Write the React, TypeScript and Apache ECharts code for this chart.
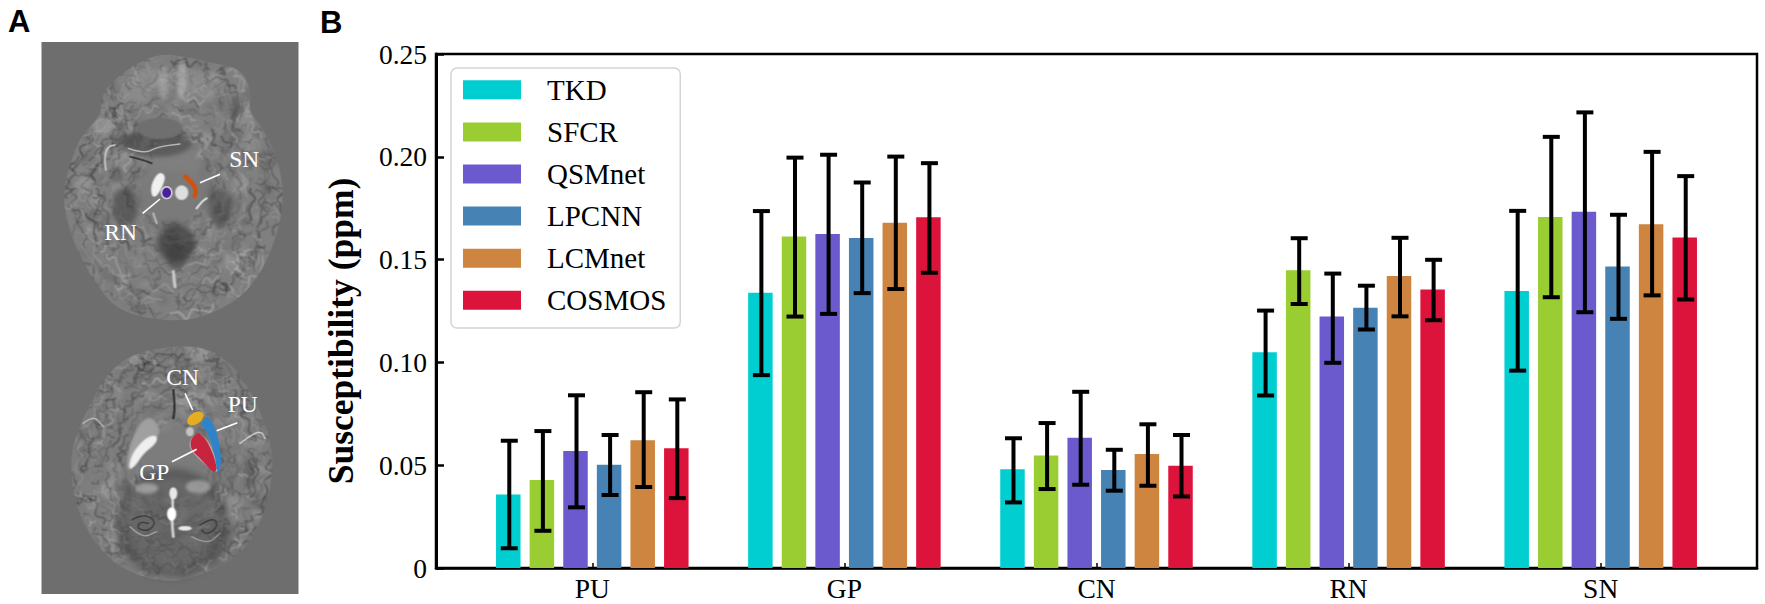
import React, { useEffect, useRef } from "react";
import * as echarts from "echarts";

const categories = ["PU", "GP", "CN", "RN", "SN"];
const methods = ["TKD", "SFCR", "QSMnet", "LPCNN", "LCMnet", "COSMOS"];
const colors = ["#00CED1", "#9ACD32", "#6A5ACD", "#4682B4", "#CD853F", "#DC143C"];
const yTicks = ["0", "0.05", "0.10", "0.15", "0.20", "0.25"];

const tkdMean = [0.0358, 0.1339, 0.048, 0.1049, 0.1347];
const sfcrMean = [0.0428, 0.1612, 0.0547, 0.1448, 0.1707];
const qsmMean = [0.0569, 0.1625, 0.0633, 0.1223, 0.1733];
const lpcnnMean = [0.0502, 0.1605, 0.0477, 0.1266, 0.1467];
const lcmMean = [0.0621, 0.1679, 0.0554, 0.142, 0.1672];
const cosmosMean = [0.0582, 0.1706, 0.0497, 0.1355, 0.1607];

const tkdLow = [0.0096, 0.0938, 0.0319, 0.0839, 0.096];
const sfcrLow = [0.0181, 0.1223, 0.0384, 0.1284, 0.1317];
const qsmLow = [0.0295, 0.1236, 0.0405, 0.0998, 0.1244];
const lpcnnLow = [0.0355, 0.1337, 0.0376, 0.116, 0.1212];
const lcmLow = [0.0394, 0.1357, 0.04, 0.1224, 0.1326];
const cosmosLow = [0.034, 0.1436, 0.0348, 0.1205, 0.1306];

const tkdHigh = [0.0619, 0.1736, 0.0631, 0.1252, 0.1737];
const sfcrHigh = [0.0666, 0.1996, 0.0705, 0.1604, 0.2097];
const qsmHigh = [0.084, 0.201, 0.0857, 0.1432, 0.2216];
const lpcnnHigh = [0.0647, 0.1875, 0.0575, 0.1373, 0.1718];
const lcmHigh = [0.0855, 0.2001, 0.0699, 0.1606, 0.2024];
const cosmosHigh = [0.082, 0.1969, 0.0647, 0.1499, 0.1906];

const means = [tkdMean, sfcrMean, qsmMean, lpcnnMean, lcmMean, cosmosMean];
const lows = [tkdLow, sfcrLow, qsmLow, lpcnnLow, lcmLow, cosmosLow];
const highs = [tkdHigh, sfcrHigh, qsmHigh, lpcnnHigh, lcmHigh, cosmosHigh];

const PITCH = 0.1333;
const xOf = (cat: number, s: number) => cat + (s - 2.5) * PITCH;

type P = number[];
const TOP_OFF = 0;
const BOT_OFF = 870;
const PANEL = { x: 41.5, y: 42, w: 257, h: 552 };
const zp = (pts: P[], off: number) => pts.map(([x, y]) => [x / 3, (y + off) / 3]);

const topOutline: P[] = [[300,300],[330,250],[400,195],[480,160],[560,170],[640,190],[720,205],[755,270],[745,335],[790,385],[830,470],[850,560],[845,650],[815,750],[780,820],[730,885],[660,930],[560,965],[430,955],[340,920],[280,840],[225,740],[195,640],[190,570],[210,490],[245,405],[305,345]];
const botOutline: P[] = [[515,168],[600,170],[660,195],[720,250],[770,340],[810,440],[820,540],[800,650],[760,740],[700,810],[620,850],[520,878],[420,860],[340,820],[270,740],[225,640],[210,530],[225,440],[270,340],[320,250],[400,190]];

// Brain slices: the reference shows photographic MRI slices, painted here as a texture image.
function paintSlices(): string {
  const S = 2;
  const cv = document.createElement("canvas");
  cv.width = PANEL.w * S;
  cv.height = PANEL.h * S;
  const ctx = cv.getContext("2d")!;
  ctx.scale(S, S);
  ctx.translate(-PANEL.x, -PANEL.y);
  ctx.fillStyle = "#6e6e6e";
  ctx.fillRect(PANEL.x, PANEL.y, PANEL.w, PANEL.h);

  let seed = 12345;
  const rnd = () => {
    seed = (seed * 16807) % 2147483647;
    return seed / 2147483647;
  };

  const closed = (pts: P[]) => {
    ctx.beginPath();
    const n = pts.length;
    const mid = (a: P, b: P) => [(a[0] + b[0]) / 2, (a[1] + b[1]) / 2];
    const m0 = mid(pts[n - 1], pts[0]);
    ctx.moveTo(m0[0], m0[1]);
    for (let i = 0; i < n; i++) {
      const m = mid(pts[i], pts[(i + 1) % n]);
      ctx.quadraticCurveTo(pts[i][0], pts[i][1], m[0], m[1]);
    }
    ctx.closePath();
  };
  const ell = (x: number, y: number, rx: number, ry: number, off: number, color: string, blur = 1, rot = 0) => {
    ctx.filter = `blur(${blur}px)`;
    ctx.fillStyle = color;
    ctx.beginPath();
    ctx.ellipse(x / 3, (y + off) / 3, rx / 3, ry / 3, rot, 0, Math.PI * 2);
    ctx.fill();
    ctx.filter = "none";
  };
  const path = (pts: P[], off: number, color: string, w: number, blur = 0.7) => {
    ctx.filter = `blur(${blur}px)`;
    ctx.strokeStyle = color;
    ctx.lineWidth = w;
    ctx.lineCap = "round";
    ctx.lineJoin = "round";
    ctx.beginPath();
    const q = zp(pts, off);
    q.forEach(([x, y], i) => {
      if (!i) ctx.moveTo(x, y);
      else if (i < q.length - 1) ctx.quadraticCurveTo(x, y, (x + q[i + 1][0]) / 2, (y + q[i + 1][1]) / 2);
      else ctx.lineTo(x, y);
    });
    ctx.stroke();
    ctx.filter = "none";
  };
  const shape = (pts: P[], off: number, color: string, blur = 1) => {
    ctx.filter = `blur(${blur}px)`;
    ctx.fillStyle = color;
    closed(zp(pts, off));
    ctx.fill();
    ctx.filter = "none";
  };

  const texture = (outlineZ: P[], off: number, base: string) => {
    const outline = zp(outlineZ, off);
    const cx = outline.reduce((a, p) => a + p[0], 0) / outline.length;
    const cy = outline.reduce((a, p) => a + p[1], 0) / outline.length;
    ctx.save();
    closed(outline);
    ctx.clip();
    ctx.fillStyle = base;
    ctx.fillRect(PANEL.x, PANEL.y, PANEL.w, PANEL.h);

    const samples: P[] = [];
    const n = outline.length;
    for (let i = 0; i < n; i++) {
      const a = outline[i];
      const b = outline[(i + 1) % n];
      for (let t = 0; t < 1; t += 0.1) samples.push([a[0] + (b[0] - a[0]) * t, a[1] + (b[1] - a[1]) * t]);
    }

    // soft tonal patches
    ctx.filter = "blur(3.5px)";
    for (let i = 0; i < 170; i++) {
      const p = samples[Math.floor(rnd() * samples.length)];
      const k = 0.3 + rnd() * 0.68;
      const g = Math.round(80 + rnd() * 90);
      ctx.fillStyle = `rgba(${g},${g},${g},0.4)`;
      ctx.beginPath();
      ctx.ellipse(cx + (p[0] - cx) * k, cy + (p[1] - cy) * k, 3 + rnd() * 9, 3 + rnd() * 7, rnd() * 3, 0, 6.3);
      ctx.fill();
    }

    // folded gyri: wobbling concentric strokes
    ctx.filter = "blur(0.8px)";
    for (let k = 0.99; k > 0.3; k -= 0.03) {
      const f1 = 20 + rnd() * 26;
      const f2 = 40 + rnd() * 40;
      const ph = rnd() * 6;
      let i = Math.floor(rnd() * samples.length);
      let remaining = samples.length;
      while (remaining > 0) {
        const len = 4 + Math.floor(rnd() * 18);
        const skip = 2 + Math.floor(rnd() * 10);
        const dark = rnd() < 0.55;
        const g = dark ? Math.round(50 + rnd() * 40) : Math.round(140 + rnd() * 50);
        ctx.strokeStyle = `rgba(${g},${g},${g},${0.22 + rnd() * 0.33})`;
        ctx.lineWidth = 0.6 + rnd() * 1.7;
        ctx.beginPath();
        for (let j = 0; j < len; j++) {
          const idx = (i + j) % samples.length;
          const th = (idx / samples.length) * Math.PI * 2;
          const kk = k * (1 + 0.028 * Math.sin(th * f1 + ph) + 0.016 * Math.sin(th * f2 + ph * 2));
          const x = cx + (samples[idx][0] - cx) * kk;
          const y = cy + (samples[idx][1] - cy) * kk;
          j ? ctx.lineTo(x, y) : ctx.moveTo(x, y);
        }
        ctx.stroke();
        i += len + skip;
        remaining -= len + skip;
      }
    }

    // radial sulci in the cortex
    for (let i = 0; i < 170; i++) {
      const p = samples[Math.floor(rnd() * samples.length)];
      const k0 = 0.72 + rnd() * 0.28;
      const dark = rnd() < 0.6;
      const g = dark ? Math.round(45 + rnd() * 40) : Math.round(150 + rnd() * 50);
      ctx.strokeStyle = `rgba(${g},${g},${g},0.4)`;
      ctx.lineWidth = 0.6 + rnd() * 1;
      ctx.beginPath();
      const wob = rnd() * 6;
      for (let j = 0; j < 7; j++) {
        const k = k0 - j * 0.012;
        const x = cx + (p[0] - cx) * k + Math.sin(j * 1.4 + wob) * 1.6;
        const y = cy + (p[1] - cy) * k + Math.cos(j * 1.2 + wob) * 1.6;
        j ? ctx.lineTo(x, y) : ctx.moveTo(x, y);
      }
      ctx.stroke();
    }
    ctx.filter = "none";
    ctx.restore();
  };

  // ---- top slice ----
  texture(topOutline, TOP_OFF, "#7f7f7f");
  ell(520, 265, 165, 60, TOP_OFF, "rgba(165,165,165,0.3)", 7);
  ell(545, 240, 14, 60, TOP_OFF, "rgba(210,210,210,0.4)", 3);
  ell(490, 250, 14, 50, TOP_OFF, "rgba(200,200,200,0.35)", 3);
  ell(470, 430, 105, 40, TOP_OFF, "rgba(70,70,70,0.6)", 4);
  ell(480, 385, 68, 32, TOP_OFF, "#6f6f6f", 1.5);
  path([[385,445],[430,462],[475,440],[540,432]], TOP_OFF, "rgba(225,225,225,0.7)", 1.4);
  path([[390,470],[430,480],[455,490]], TOP_OFF, "rgba(30,30,30,0.7)", 2);
  path([[318,510],[312,480],[322,440],[345,435]], TOP_OFF, "rgba(225,225,225,0.75)", 1.8);
  ell(520, 610, 115, 95, TOP_OFF, "rgba(118,118,118,0.45)", 6);
  ell(375, 620, 38, 58, TOP_OFF, "rgba(60,60,60,0.55)", 5);
  ell(660, 625, 36, 60, TOP_OFF, "rgba(65,65,65,0.5)", 5);
  ell(530, 730, 58, 55, TOP_OFF, "rgba(55,55,55,0.7)", 6);
  ell(530, 770, 30, 40, TOP_OFF, "rgba(60,60,60,0.55)", 4);
  shape([[455,590],[452,555],[475,515],[497,525],[490,555],[470,590]], TOP_OFF, "#f0f0f0", 1.2);
  ell(500, 578, 18, 20, TOP_OFF, "#cfcfcf", 0.6);
  ell(545, 578, 20, 22, TOP_OFF, "#dedede", 1);
  path([[590,625],[605,605],[620,595]], TOP_OFF, "rgba(235,235,235,0.85)", 2.2);
  path([[460,640],[470,670]], TOP_OFF, "rgba(210,210,210,0.7)", 2);
  path([[520,815],[525,860]], TOP_OFF, "rgba(225,225,225,0.8)", 3, 1);

  // ---- bottom slice ----
  texture(botOutline, BOT_OFF, "#7c7c7c");
  ell(515, 470, 150, 125, BOT_OFF, "rgba(125,125,125,0.4)", 7);
  ell(515, 700, 168, 165, BOT_OFF, "rgba(40,40,40,0.38)", 7);
  ell(515, 700, 140, 135, BOT_OFF, "rgba(130,130,130,0.32)", 7);
  path([[395,690],[430,670],[470,695],[445,725],[410,715],[420,695],[445,700]], BOT_OFF, "rgba(35,35,35,0.6)", 1.5);
  path([[390,710],[425,745],[470,725]], BOT_OFF, "rgba(190,190,190,0.7)", 1.4);
  path([[600,705],[640,680],[655,710],[620,735],[605,720]], BOT_OFF, "rgba(35,35,35,0.6)", 1.5);
  path([[575,740],[620,765],[660,730]], BOT_OFF, "rgba(185,185,185,0.6)", 1.4);
  ell(440, 595, 35, 16, BOT_OFF, "rgba(180,180,180,0.7)", 3);
  ell(595, 590, 38, 20, BOT_OFF, "rgba(175,175,175,0.7)", 3);
  shape([[380,545],[385,470],[420,395],[455,378],[482,420],[470,445],[430,490],[400,530]], BOT_OFF, "#a0a0a0", 2);
  shape([[385,540],[395,490],[440,440],[472,435],[470,460],[430,490],[405,530]], BOT_OFF, "#efefef", 1.5);
  path([[520,300],[525,350],[520,385]], BOT_OFF, "rgba(30,30,30,0.8)", 2.2);
  path([[515,600],[520,640],[515,690],[520,740]], BOT_OFF, "rgba(240,240,240,0.85)", 2.6, 0.8);
  ell(515, 672, 14, 20, BOT_OFF, "#ffffff", 1);
  ell(555, 715, 20, 7, BOT_OFF, "#e8e8e8", 1);
  ell(520, 610, 12, 18, BOT_OFF, "#e8e8e8", 1);
  path([[720,460],[760,430],[785,425],[795,445]], BOT_OFF, "rgba(225,225,225,0.8)", 1.5);
  path([[250,400],[280,375],[310,410]], BOT_OFF, "rgba(215,215,215,0.7)", 1.4);
  ell(570, 425, 12, 14, BOT_OFF, "#c4c4c4", 1);
  shape([[568,452],[595,424],[630,458],[656,530],[650,552],[600,510],[570,478]], BOT_OFF, "#b9b9b9", 0.6);
  return cv.toDataURL("image/png");
}

function poly(pts: P[], off: number, fill: string, extra: any = {}) {
  return { type: "polygon", silent: true, z: 9, shape: { points: zp(pts, off), smooth: 0.35 }, style: { fill, ...extra } };
}
function blob(x: number, y: number, rx: number, ry: number, off: number, fill: string, rot = 0) {
  return { type: "ellipse", silent: true, z: 10, x: x / 3, y: (y + off) / 3, rotation: rot, shape: { cx: 0, cy: 0, rx: rx / 3, ry: ry / 3 }, style: { fill } };
}
function label(text: string, x: number, y: number, off: number) {
  return { type: "text", silent: true, z: 12, style: { text, x: x / 3, y: (y + off) / 3, fill: "#fff", font: "23.5px 'Liberation Serif'", align: "center", verticalAlign: "middle" } };
}
function lead(x1: number, y1: number, x2: number, y2: number, off: number) {
  return { type: "line", z: 11, silent: true, shape: { x1: x1 / 3, y1: (y1 + off) / 3, x2: x2 / 3, y2: (y2 + off) / 3 }, style: { stroke: "#fff", lineWidth: 1.6 } };
}

function panelA() {
  return [
    { type: "image", silent: true, z: 1, style: { image: paintSlices(), x: PANEL.x, y: PANEL.y, width: PANEL.w, height: PANEL.h } },
    blob(500, 578, 13, 15, TOP_OFF, "#4b1f9e"),
    { type: "polyline", silent: true, z: 10, shape: { points: zp([[556,530],[575,548],[587,570],[584,588]], TOP_OFF), smooth: 0.4 }, style: { stroke: "#d1520f", lineWidth: 4.5, fill: "none", lineCap: "round" } },
    lead(600, 548, 660, 523, TOP_OFF),
    lead(428, 640, 480, 597, TOP_OFF),
    label("SN", 733, 478, TOP_OFF),
    label("RN", 362, 695, TOP_OFF),
    poly([[574,450],[595,430],[625,462],[650,532],[642,546],[600,505],[575,476]], BOT_OFF, "#c7243e"),
    poly([[605,400],[625,383],[650,430],[663,505],[655,548],[640,480],[622,430]], BOT_OFF, "#2f83c8"),
    blob(586, 385, 27, 17, BOT_OFF, "#e4ad24", 0.6),
    lead(555, 310, 578, 360, BOT_OFF),
    lead(650, 422, 712, 398, BOT_OFF),
    lead(516, 515, 590, 478, BOT_OFF),
    label("CN", 548, 260, BOT_OFF),
    label("PU", 728, 342, BOT_OFF),
    label("GP", 463, 545, BOT_OFF),
    { type: "text", silent: true, style: { text: "A", x: 8, y: 21, fill: "#000", font: "bold 31px 'Liberation Sans'", verticalAlign: "middle" } },
    { type: "text", silent: true, style: { text: "B", x: 320, y: 22, fill: "#000", font: "bold 31px 'Liberation Sans'", verticalAlign: "middle" } },
    { type: "text", silent: true, rotation: Math.PI / 2, x: 341, y: 331, style: { text: "Susceptibility (ppm)", x: 0, y: 0, fill: "#000", font: "bold 35.5px 'Liberation Serif'", align: "center", verticalAlign: "middle" } },
  ];
}

export default function App() {
  const ref = useRef<HTMLDivElement>(null);
  useEffect(() => {
    document.body.style.margin = "0";
    const chart = echarts.init(ref.current!, null, { renderer: "svg" });
    const barSeries = methods.map((name, s) => ({
      name,
      type: "bar",
      barWidth: 24.5,
      barGap: "-100%",
      itemStyle: { color: colors[s] },
      data: means[s].map((v, c) => [xOf(c, s), v]),
      z: 2,
    }));
    const errData: number[][] = [];
    methods.forEach((_, s) => {
      categories.forEach((_, c) => errData.push([xOf(c, s), lows[s][c], highs[s][c]]));
    });
    chart.setOption({
      animation: false,
      backgroundColor: "#fff",
      textStyle: { fontFamily: "'Liberation Serif'" },
      grid: { left: 436, top: 54, width: 1321, height: 514, show: true, borderColor: "#000", borderWidth: 2.5, backgroundColor: "transparent" },
      legend: {
        data: methods,
        orient: "vertical",
        left: 451,
        top: 68,
        itemWidth: 58,
        itemHeight: 19,
        itemGap: 13.1,
        icon: "rect",
        padding: [7.3, 14, 13.3, 12],
        backgroundColor: "#fff",
        borderColor: "#d4d4d4",
        borderWidth: 1.5,
        borderRadius: 6,
        selectedMode: false,
        textStyle: { fontFamily: "'Liberation Serif'", fontSize: 29, color: "#000", lineHeight: 19, padding: [0, 0, 0, 21] },
      },
      xAxis: {
        type: "value",
        min: -0.62,
        max: 4.62,
        splitLine: { show: false },
        axisLine: { show: true, lineStyle: { color: "#000", width: 2.5 } },
        axisTick: { show: true, inside: true, length: 5, lineStyle: { color: "#000", width: 1.5 }, customValues: [0, 1, 2, 3, 4] },
        axisLabel: {
          show: true,
          customValues: [0, 1, 2, 3, 4],
          formatter: (v: number) => categories[Math.round(v)] ?? "",
          fontFamily: "'Liberation Serif'",
          fontSize: 27.5,
          color: "#000",
          margin: 6,
        },
      },
      yAxis: {
        type: "value",
        min: 0,
        max: 0.25,
        interval: 0.05,
        splitLine: { show: false },
        axisLine: { show: true, onZero: false, lineStyle: { color: "#000", width: 3 } },
        axisTick: { show: true, inside: true, length: 8, lineStyle: { color: "#000", width: 2.5 } },
        axisLabel: {
          formatter: (v: number) => yTicks[Math.round(v / 0.05)] ?? "",
          fontFamily: "'Liberation Serif'",
          fontSize: 27.5,
          color: "#000",
          margin: 9,
        },
      },
      series: [
        ...barSeries,
        {
          type: "custom",
          silent: true,
          z: 5,
          encode: { x: 0, y: [1, 2] },
          data: errData,
          renderItem: (_: any, api: any) => {
            const [x, yLow] = api.coord([api.value(0), api.value(1)]);
            const [, yHigh] = api.coord([api.value(0), api.value(2)]);
            const st = { stroke: "#000", lineWidth: 4 };
            const cap = 8.5;
            return {
              type: "group",
              children: [
                { type: "line", shape: { x1: x + 1, y1: yLow, x2: x + 1, y2: yHigh }, style: st },
                { type: "line", shape: { x1: x + 1 - cap, y1: yLow, x2: x + 1 + cap, y2: yLow }, style: st },
                { type: "line", shape: { x1: x + 1 - cap, y1: yHigh, x2: x + 1 + cap, y2: yHigh }, style: st },
              ],
            };
          },
        },
      ],
      graphic: { elements: panelA() },
    });
    return () => chart.dispose();
  }, []);
  return <div ref={ref} style={{ position: "absolute", left: 0, top: 0, width: 1765, height: 604 }} />;
}
